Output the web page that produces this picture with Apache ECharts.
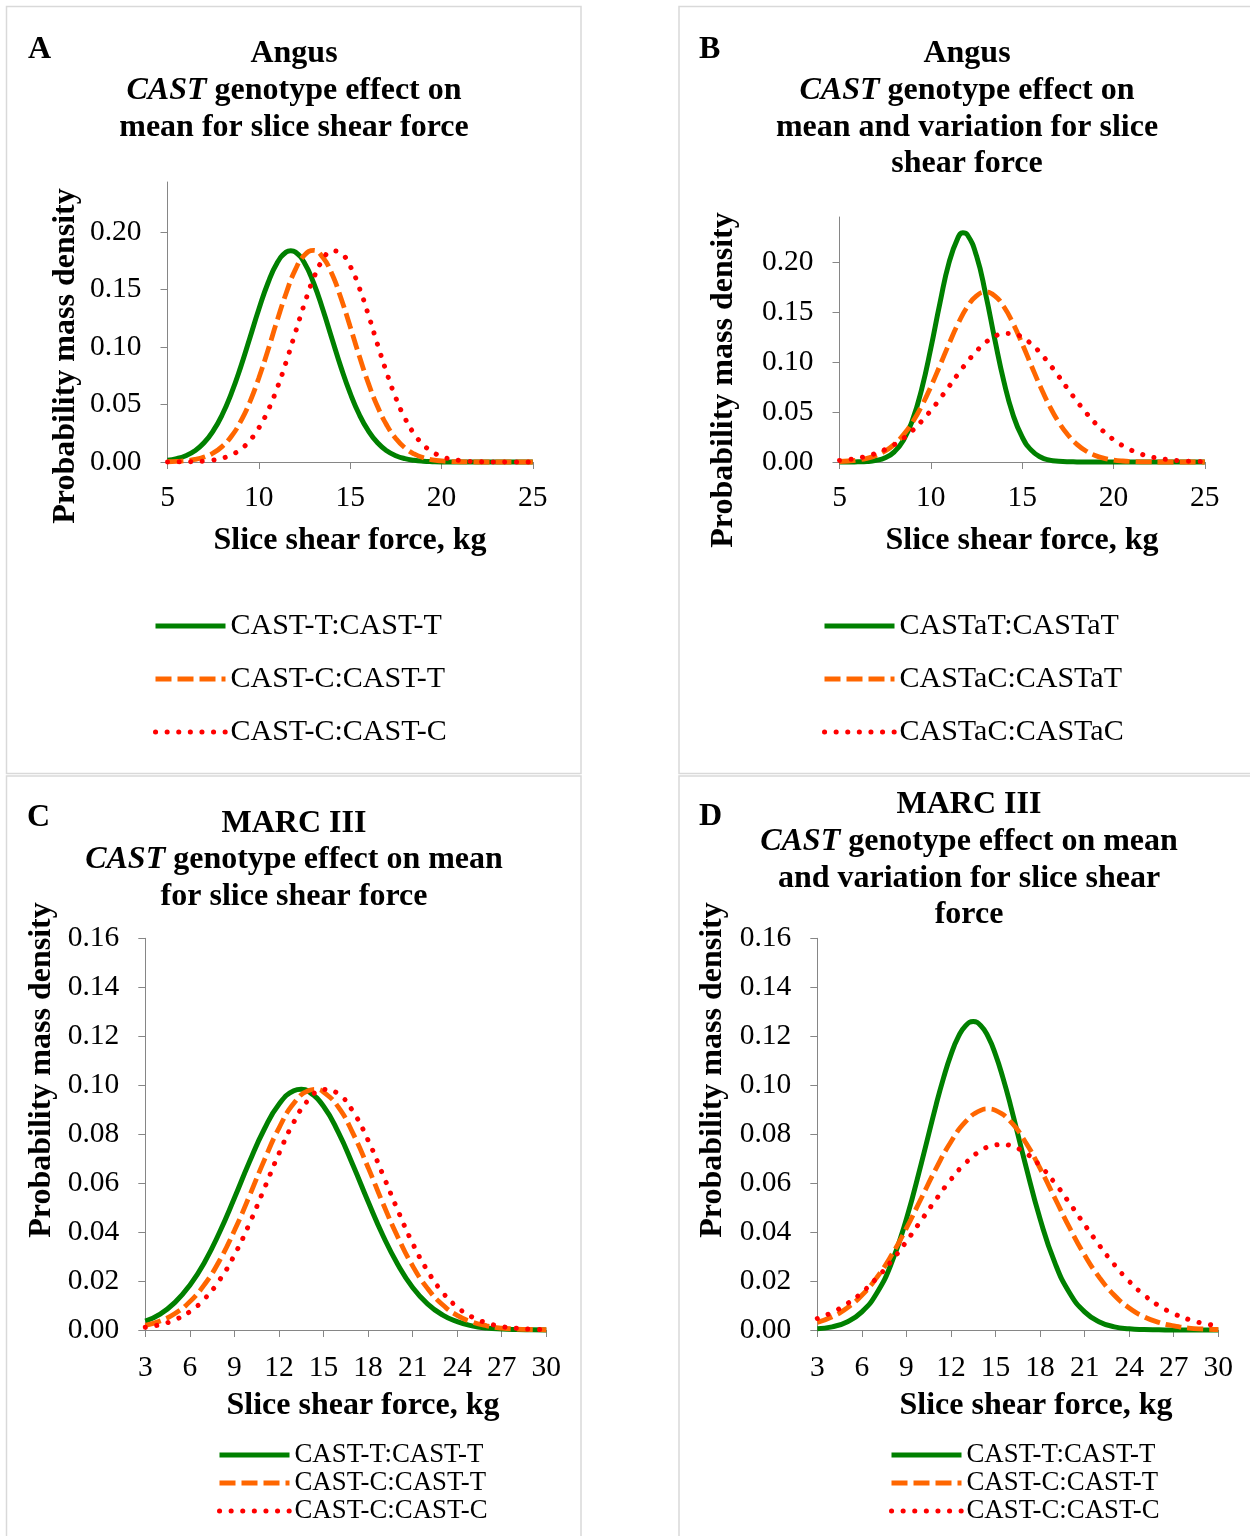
<!DOCTYPE html>
<html>
<head>
<meta charset="utf-8">
<script src="https://cdn.jsdelivr.net/npm/echarts@6/dist/echarts.min.js"></script>
<style>
  html, body { margin: 0; padding: 0; background: #fff; }
  #chart { width: 1250px; height: 1536px; }
</style>
</head>
<body>
<div id="chart"></div>
<script>
// slice shear force distributions, CAST genotypes, four panels
var serif = '"Liberation Serif", "Times New Roman", serif';

// panels A and B share the x grid (kg, half-kg steps)
var xHalf = [5, 5.5, 6, 6.5, 7, 7.5, 8, 8.5, 9, 9.5, 10, 10.5, 11, 11.5, 12, 12.5, 13, 13.5, 14, 14.5, 15,
  15.5, 16, 16.5, 17, 17.5, 18, 18.5, 19, 19.5, 20, 20.5, 21, 21.5, 22, 22.5, 23, 23.5, 24, 24.5, 25];
// same grid plus the reading at the green peak
var xHalfPeak = [5, 5.5, 6, 6.5, 7, 7.5, 8, 8.5, 9, 9.5, 10, 10.5, 11, 11.5, 11.75, 12, 12.5, 13, 13.5, 14, 14.5, 15,
  15.5, 16, 16.5, 17, 17.5, 18, 18.5, 19, 19.5, 20, 20.5, 21, 21.5, 22, 22.5, 23, 23.5, 24, 24.5, 25];

// panel A - Angus, effect on mean
var angusTT = [0.0015, 0.0029, 0.0055, 0.0098, 0.0167, 0.0270, 0.0413, 0.0599, 0.0823, 0.1074, 0.1328, 0.1557, 0.1731, 0.1826, 0.1838, 0.1826, 0.1731, 0.1557, 0.1328, 0.1074, 0.0823, 0.0599,
  0.0413, 0.0270, 0.0167, 0.0098, 0.0055, 0.0029, 0.0015, 0.0007, 0.0003, 0.0001, 0.0001, 0, 0, 0, 0, 0, 0, 0, 0, 0];
var angusCT = [0.0002, 0.0005, 0.0011, 0.0022, 0.0043, 0.0078, 0.0136, 0.0224, 0.0351, 0.0519, 0.0731, 0.0972, 0.1229, 0.1470, 0.1673, 0.1799, 0.1840, 0.1780, 0.1637, 0.1424, 0.1178,
  0.0921, 0.0684, 0.0482, 0.0322, 0.0204, 0.0123, 0.0070, 0.0038, 0.0019, 0.0009, 0.0004, 0.0002, 0.0001, 0, 0, 0, 0, 0, 0, 0];
var angusCC = [0, 0.0001, 0.0002, 0.0004, 0.0008, 0.0017, 0.0033, 0.0062, 0.0110, 0.0185, 0.0296, 0.0447, 0.0641, 0.0872, 0.1126, 0.1377, 0.1599, 0.1757, 0.1836, 0.1814, 0.1703,
  0.1515, 0.1279, 0.1022, 0.0777, 0.0558, 0.0381, 0.0246, 0.0151, 0.0088, 0.0049, 0.0025, 0.0013, 0.0006, 0.0003, 0.0001, 0.0001, 0, 0, 0, 0];

// panel B - Angus, effect on mean and variation
var varTT = [0, 0, 0.0002, 0.0005, 0.0016, 0.0042, 0.0101, 0.0217, 0.0420, 0.0729, 0.1136, 0.1589, 0.1994, 0.2246, 0.2289, 0.2270, 0.2059, 0.1678, 0.1226, 0.0804, 0.0472, 0.0250,
  0.0118, 0.0050, 0.0019, 0.0007, 0.0002, 0.0001, 0, 0, 0, 0, 0, 0, 0, 0, 0, 0, 0, 0, 0, 0];
var varCT = [0.0005, 0.0010, 0.0020, 0.0037, 0.0065, 0.0110, 0.0176, 0.0272, 0.0399, 0.0560, 0.0752, 0.0964, 0.1182, 0.1385, 0.1551, 0.1660, 0.1698, 0.1660, 0.1551, 0.1385, 0.1182,
  0.0964, 0.0752, 0.0560, 0.0399, 0.0272, 0.0176, 0.0110, 0.0065, 0.0037, 0.0020, 0.0010, 0.0005, 0.0002, 0.0001, 0, 0, 0, 0, 0, 0];
var varCC = [0.0016, 0.0025, 0.0039, 0.0059, 0.0087, 0.0125, 0.0174, 0.0237, 0.0315, 0.0408, 0.0514, 0.0631, 0.0755, 0.0881, 0.1000, 0.1107, 0.1194, 0.1255, 0.1284, 0.1281, 0.1245,
  0.1179, 0.1087, 0.0977, 0.0856, 0.0730, 0.0607, 0.0492, 0.0388, 0.0298, 0.0224, 0.0163, 0.0116, 0.0080, 0.0054, 0.0036, 0.0023, 0.0014, 0.0009, 0.0005, 0.0003];

// panels C and D - MARC III (whole kg, plus readings around each peak)
var xC = [3, 4, 5, 6, 7, 8, 9, 10, 11, 12, 13, 14, 15, 16, 17, 18, 19, 20, 21, 22, 23, 24, 25, 26, 27, 28, 29, 30];
var xPeak13 = [3, 4, 5, 6, 7, 8, 9, 10, 11, 12, 13, 13.5, 14, 15, 16, 17, 18, 19, 20, 21, 22, 23, 24, 25, 26, 27, 28, 29, 30];
var xPeak14 = [3, 4, 5, 6, 7, 8, 9, 10, 11, 12, 13, 14, 14.5, 15, 16, 17, 18, 19, 20, 21, 22, 23, 24, 25, 26, 27, 28, 29, 30];
var xPeak15 = [3, 4, 5, 6, 7, 8, 9, 10, 11, 12, 13, 14, 15, 15.5, 16, 17, 18, 19, 20, 21, 22, 23, 24, 25, 26, 27, 28, 29, 30];
var xPeakD = [3, 4, 5, 6, 7, 8, 9, 10, 11, 11.5, 12, 12.5, 13, 13.5, 14, 14.5, 15, 15.5, 16, 17, 18, 19, 20, 21, 22, 23, 24, 25, 26, 27, 28, 29, 30];

var marcTT = [0.0036, 0.0065, 0.0113, 0.0183, 0.0278, 0.0399, 0.0539, 0.0685, 0.0819, 0.0922, 0.0977, 0.0983, 0.0974, 0.0914, 0.0807, 0.0671, 0.0525, 0.0386, 0.0268, 0.0174, 0.0107, 0.0062, 0.0034, 0.0017, 0.0008, 0.0004, 0.0002, 0.0001, 0];
var marcCT = [0.0019, 0.0037, 0.0067, 0.0116, 0.0187, 0.0284, 0.0406, 0.0546, 0.0692, 0.0825, 0.0926, 0.0978, 0.0983, 0.0972, 0.0910, 0.0801, 0.0664, 0.0517, 0.0380, 0.0262, 0.0170, 0.0104, 0.0060, 0.0033, 0.0017, 0.0008, 0.0004, 0.0002, 0.0001];
var marcCC = [0.0011, 0.0022, 0.0042, 0.0075, 0.0128, 0.0204, 0.0306, 0.0433, 0.0576, 0.0721, 0.0849, 0.0941, 0.0982, 0.0964, 0.0891, 0.0775, 0.0634, 0.0489, 0.0354, 0.0242, 0.0155, 0.0094, 0.0053, 0.0029, 0.0014, 0.0007, 0.0003, 0.0001];
var marcVarTT = [0.0005, 0.0013, 0.0033, 0.0074, 0.0150, 0.0274, 0.0454, 0.0680, 0.0920, 0.1030, 0.1125, 0.1198, 0.1244, 0.1260, 0.1244, 0.1198, 0.1125, 0.1030,
  0.0920, 0.0680, 0.0454, 0.0274, 0.0150, 0.0074, 0.0033, 0.0013, 0.0005, 0.0002, 0.0001, 0, 0, 0, 0];
var marcVarCT = [0.0031, 0.0054, 0.0090, 0.0142, 0.0214, 0.0306, 0.0416, 0.0538, 0.0660, 0.0769, 0.0852, 0.0897, 0.0903, 0.0897, 0.0852, 0.0769, 0.0660, 0.0538, 0.0416, 0.0306, 0.0214, 0.0142, 0.0090, 0.0054, 0.0031, 0.0017, 0.0008, 0.0004, 0.0002];
var marcVarCC = [0.0047, 0.0072, 0.0107, 0.0153, 0.0212, 0.0282, 0.0362, 0.0448, 0.0534, 0.0615, 0.0683, 0.0732, 0.0756, 0.0758, 0.0753, 0.0724, 0.0671, 0.0600, 0.0517, 0.0430, 0.0345, 0.0267, 0.0199, 0.0143, 0.0099, 0.0067, 0.0043, 0.0027, 0.0016];

var namesMean = ['CAST-T:CAST-T', 'CAST-C:CAST-T', 'CAST-C:CAST-C'];
var namesVar = ['CASTaT:CASTaT', 'CASTaC:CASTaT', 'CASTaC:CASTaC'];
var ticksAngus = [0, 0.05, 0.10, 0.15, 0.20];

var chart = echarts.init(document.getElementById('chart'), null, { renderer: 'canvas' });

function pairs(xs, ys) {
  return xs.map(function (x, i) { return [x, ys[i]]; });
}

var styles = [
  { color: '#008000', width: 5, type: 'solid', cap: 'butt' },
  { color: '#FF6600', width: 4.8, type: [16, 6], cap: 'butt' },
  { color: '#FF0000', width: 5, type: [0.1, 11.5], cap: 'round' }
];

function line(name, idx, k, data) {
  return {
    type: 'line',
    name: name,
    xAxisIndex: idx,
    yAxisIndex: idx,
    data: data,
    symbol: 'none',
    smooth: 0.5,
    clip: false,
    silent: true,
    itemStyle: { color: styles[k].color },
    lineStyle: styles[k]
  };
}

var axisGrey = '#868686';

function xAxis(idx, min, max, step, margin) {
  return {
    type: 'value', gridIndex: idx, min: min, max: max, interval: step,
    axisLine: { show: true, onZero: false, lineStyle: { color: axisGrey, width: 1 } },
    axisTick: { show: true, length: 7, lineStyle: { color: axisGrey, width: 1 } },
    axisLabel: { fontFamily: serif, fontSize: 29.5, color: '#000', margin: margin },
    splitLine: { show: false }
  };
}

function yAxis(idx, max, opts) {
  var ax = {
    type: 'value', gridIndex: idx, min: 0, max: max,
    axisLine: { show: true, lineStyle: { color: axisGrey, width: 1 } },
    axisTick: { show: true, length: 7, lineStyle: { color: axisGrey, width: 1 } },
    axisLabel: {
      fontFamily: serif, fontSize: 29.5, color: '#000', margin: 26,
      formatter: function (v) { return v.toFixed(2); }
    },
    splitLine: { show: false }
  };
  if (opts.ticks) {
    ax.axisTick.customValues = opts.ticks;
    ax.axisLabel.customValues = opts.ticks;
  } else {
    ax.interval = opts.interval;
  }
  return ax;
}

function legend(names, left, top, rowH, gap, size) {
  return {
    data: names,
    orient: 'vertical',
    left: left, top: top,
    padding: 0,
    itemWidth: 70, itemHeight: rowH, itemGap: gap,
    selectedMode: false,
    // line only, no marker in the key
    itemStyle: { color: 'rgba(0,0,0,0)', borderColor: 'rgba(0,0,0,0)', borderWidth: 0, opacity: 0 },
    lineStyle: { width: 'inherit', type: 'inherit', cap: 'inherit' },
    textStyle: { fontFamily: serif, fontSize: size, color: '#000', lineHeight: rowH }
  };
}

var richTitle = {
  b: { fontFamily: serif, fontSize: 32, fontWeight: 'bold', lineHeight: 36.7, fill: '#000' },
  i: { fontFamily: serif, fontSize: 32, fontWeight: 'bold', fontStyle: 'italic', lineHeight: 36.7, fill: '#000' }
};

function title(x, top, text) {
  return {
    type: 'text', x: x, y: top, silent: true,
    style: { text: text, rich: richTitle, align: 'center', verticalAlign: 'top', fill: '#000',
      fontFamily: serif, fontSize: 32, fontWeight: 'bold', lineHeight: 36.7 }
  };
}

function label(x, y, text, rot, align) {
  return {
    type: 'text', x: x, y: y, rotation: rot || 0, silent: true,
    style: { text: text, align: align || 'center', verticalAlign: 'middle', fill: '#000',
      fontFamily: serif, fontSize: 32, fontWeight: 'bold' }
  };
}

function frame(x, y, w, h) {
  return { type: 'rect', silent: true, z: -10,
    shape: { x: x, y: y, width: w, height: h },
    style: { fill: null, stroke: '#d9d9d9', lineWidth: 1.5 } };
}

var option = {
  animation: false,
  backgroundColor: '#fff',
  grid: [
    { left: 167.5, top: 182, width: 365.3, height: 280 },
    { left: 839.5, top: 217, width: 365.3, height: 245 },
    { left: 145.3, top: 938.3, width: 401, height: 391.7 },
    { left: 817.3, top: 938.3, width: 401, height: 391.7 }
  ],
  xAxis: [
    xAxis(0, 5, 25, 5, 21),
    xAxis(1, 5, 25, 5, 21),
    xAxis(2, 3, 30, 3, 23),
    xAxis(3, 3, 30, 3, 23)
  ],
  yAxis: [
    yAxis(0, 0.2435, { ticks: ticksAngus }),
    yAxis(1, 0.2447, { ticks: ticksAngus }),
    yAxis(2, 0.16, { interval: 0.02 }),
    yAxis(3, 0.16, { interval: 0.02 })
  ],
  legend: [
    legend(namesMean, 153, 611, 30, 23, 30),
    legend(namesVar, 822, 611, 30, 23, 30),
    legend(namesMean, 217, 1441, 28, 0, 26.8),
    legend(namesMean, 889, 1441, 28, 0, 26.8)
  ],
  graphic: [
    frame(6.5, 6.5, 574.5, 767),
    frame(679, 6.5, 600, 767),
    frame(6.5, 776, 574.5, 800),
    frame(679, 776, 600, 800),

    label(28, 50, 'A', 0, 'left'),
    label(699, 50, 'B', 0, 'left'),
    label(27, 818, 'C', 0, 'left'),
    label(699, 817, 'D', 0, 'left'),

    title(294, 35.6, '{b|Angus}\n{i|CAST}{b| genotype effect on}\n{b|mean for slice shear force}'),
    title(967, 35.6, '{b|Angus}\n{i|CAST}{b| genotype effect on}\n{b|mean and variation for slice}\n{b|shear force}'),
    title(294, 805, '{b|MARC III}\n{i|CAST}{b| genotype effect on mean}\n{b|for slice shear force}'),
    title(969, 786.6, '{b|MARC III}\n{i|CAST}{b| genotype effect on mean}\n{b|and variation for slice shear}\n{b|force}'),

    label(350, 541, 'Slice shear force, kg'),
    label(1022, 541, 'Slice shear force, kg'),
    label(363, 1406, 'Slice shear force, kg'),
    label(1036, 1406, 'Slice shear force, kg'),

    label(66, 356, 'Probability mass density', Math.PI / 2),
    label(724, 380, 'Probability mass density', Math.PI / 2),
    label(42, 1070, 'Probability mass density', Math.PI / 2),
    label(713, 1070, 'Probability mass density', Math.PI / 2)
  ],
  series: [
    line(namesMean[0], 0, 0, pairs(xHalfPeak, angusTT)),
    line(namesMean[1], 0, 1, pairs(xHalf, angusCT)),
    line(namesMean[2], 0, 2, pairs(xHalf, angusCC)),
    line(namesVar[0], 1, 0, pairs(xHalfPeak, varTT)),
    line(namesVar[1], 1, 1, pairs(xHalf, varCT)),
    line(namesVar[2], 1, 2, pairs(xHalf, varCC)),
    line(namesMean[0], 2, 0, pairs(xPeak13, marcTT)),
    line(namesMean[1], 2, 1, pairs(xPeak14, marcCT)),
    line(namesMean[2], 2, 2, pairs(xC, marcCC)),
    line(namesMean[0], 3, 0, pairs(xPeakD, marcVarTT)),
    line(namesMean[1], 3, 1, pairs(xPeak14, marcVarCT)),
    line(namesMean[2], 3, 2, pairs(xPeak15, marcVarCC))
  ]
};

chart.setOption(option);
</script>
</body>
</html>
